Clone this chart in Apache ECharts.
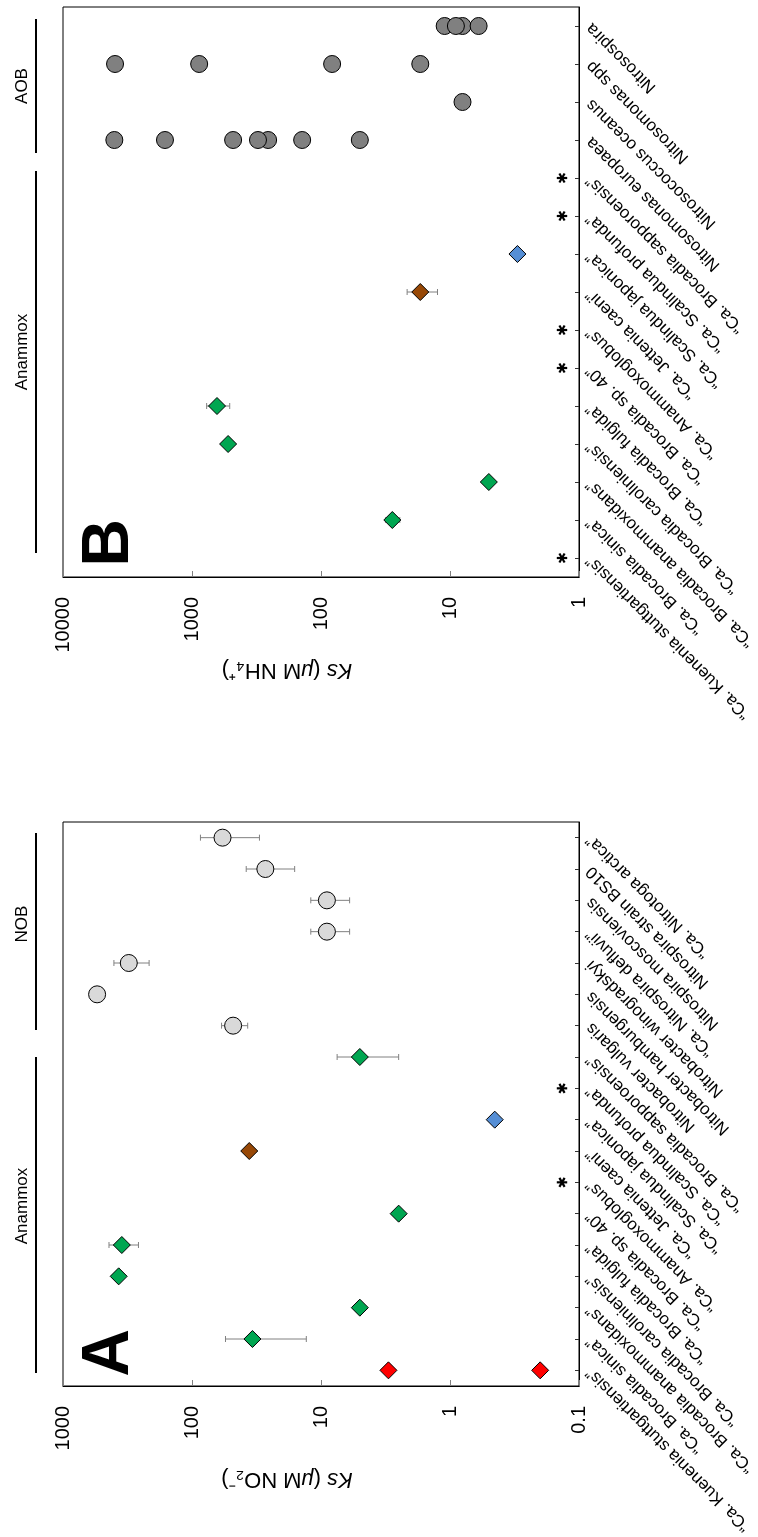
<!DOCTYPE html>
<html>
<head>
<meta charset="utf-8">
<script src="https://cdn.jsdelivr.net/npm/echarts@6/dist/echarts.min.js"></script>
<style>
  html, body { margin: 0; padding: 0; background: #fff; }
  #chart { width: 758px; height: 1537px; }
</style>
</head>
<body>
<div id="chart"></div>
<script>
// Half-saturation constants (Ks) of anammox bacteria, ammonia oxidisers (AOB)
// and nitrite oxidisers (NOB). Panel B: ammonium, panel A: nitrite.

// ---------- Panel B: Ks for NH4+ ----------
const nh4Categories = [
  '“Ca. Kuenenia stuttgartiensis”', '“Ca. Brocadia sinica”', '“Ca. Brocadia anammoxidans”',
  '“Ca. Brocadia caroliniensis”', '“Ca. Brocadia fulgida”', '“Ca. Brocadia sp. 40”',
  '“Ca. Anammoxoglobus”', '“Ca. Jettenia caeni”', '“Ca. Scalindua japonica”',
  '“Ca. Scalindua profunda”', '“Ca. Brocadia sapporoensis”', 'Nitrosomonas europaea',
  'Nitrosococcus oceanus', 'Nitrosomonas spp', 'Nitrosospira'
];
const nh4Ticks = [1, 10, 100, 1000, 10000];
// [organism, Ks, sd]
const nh4Brocadia = [
  ['“Ca. Brocadia sinica”', 28, 3.5],
  ['“Ca. Brocadia anammoxidans”', 5, 0],
  ['“Ca. Brocadia caroliniensis”', 525, 0],
  ['“Ca. Brocadia fulgida”', 640, 130]
];
const nh4Jettenia = [['“Ca. Jettenia caeni”', 17, 4.5]];
const nh4Scalindua = [['“Ca. Scalindua japonica”', 3, 0]];
const nh4AOB = [
  ['Nitrosomonas europaea', 4000, 0], ['Nitrosomonas europaea', 1620, 0],
  ['Nitrosomonas europaea', 480, 0], ['Nitrosomonas europaea', 257, 0],
  ['Nitrosomonas europaea', 308, 0], ['Nitrosomonas europaea', 140, 0],
  ['Nitrosomonas europaea', 50, 0],
  ['Nitrosococcus oceanus', 8, 0],
  ['Nitrosomonas spp', 3950, 0], ['Nitrosomonas spp', 880, 0],
  ['Nitrosomonas spp', 82, 0], ['Nitrosomonas spp', 17, 0],
  ['Nitrosospira', 11, 0], ['Nitrosospira', 8, 0], ['Nitrosospira', 9, 0], ['Nitrosospira', 6, 0]
];
const nh4NotDetermined = [
  '“Ca. Kuenenia stuttgartiensis”', '“Ca. Brocadia sp. 40”', '“Ca. Anammoxoglobus”',
  '“Ca. Scalindua profunda”', '“Ca. Brocadia sapporoensis”'
];

// ---------- Panel A: Ks for NO2- ----------
const no2Categories = [
  '“Ca. Kuenenia stuttgartiensis”', '“Ca. Brocadia sinica”', '“Ca. Brocadia anammoxidans”',
  '“Ca. Brocadia caroliniensis”', '“Ca. Brocadia fulgida”', '“Ca. Brocadia sp. 40”',
  '“Ca. Anammoxoglobus”', '“Ca. Jettenia caeni”', '“Ca. Scalindua japonica”',
  '“Ca. Scalindua profunda”', '“Ca. Brocadia sapporoensis”', 'Nitrobacter vulgaris',
  'Nitrobacter hamburgensis', 'Nitrobacter winogradskyi', '“Ca. Nitrospira defluvii”',
  'Nitrospira moscoviensis', 'Nitrospira strain BS10', '“Ca. Nitrotoga arctica”'
];
const no2Ticks = [0.1, 1, 10, 100, 1000];
const no2Kuenenia = [
  ['“Ca. Kuenenia stuttgartiensis”', 3, 0],
  ['“Ca. Kuenenia stuttgartiensis”', 0.2, 0]
];
const no2Brocadia = [
  ['“Ca. Brocadia sinica”', 34, 21],
  ['“Ca. Brocadia anammoxidans”', 5, 0],
  ['“Ca. Brocadia caroliniensis”', 370, 0],
  ['“Ca. Brocadia fulgida”', 350, 90],
  ['“Ca. Brocadia sp. 40”', 2.5, 0],
  ['“Ca. Brocadia sapporoensis”', 5, 2.5]
];
const no2Jettenia = [['“Ca. Jettenia caeni”', 36, 0]];
const no2Scalindua = [['“Ca. Scalindua japonica”', 0.45, 0]];
const no2NOB = [
  ['Nitrobacter vulgaris', 48, 11],
  ['Nitrobacter hamburgensis', 544, 0],
  ['Nitrobacter winogradskyi', 309, 94],
  ['“Ca. Nitrospira defluvii”', 9, 3],
  ['Nitrospira moscoviensis', 9, 3],
  ['Nitrospira strain BS10', 27, 11],
  ['“Ca. Nitrotoga arctica”', 58, 28]
];
const no2NotDetermined = ['“Ca. Anammoxoglobus”', '“Ca. Scalindua profunda”'];

// ---------- styling ----------
const FONT = 'Arial, "Liberation Sans", Helvetica, sans-serif';
const COLORS = {
  kuenenia: '#ff0000',
  brocadia: '#00a651',
  jettenia: '#974806',
  scalindua: '#558ed5',
  aob: '#808080',
  nob: '#d9d9d9'
};

function fmtTick(v) {
  return String(Number(Number(v).toPrecision(6)));
}

function valueAxis(gi, ticks, name) {
  return {
    gridIndex: gi,
    type: 'log',
    logBase: 10,
    min: ticks[0],
    max: ticks[ticks.length - 1],
    inverse: true,
    position: 'bottom',
    splitLine: { show: false },
    axisLine: { show: true, onZero: false, lineStyle: { color: '#000', width: 1 } },
    axisTick: { show: true, inside: true, length: 6, lineStyle: { color: '#808080', width: 1 } },
    axisLabel: {
      rotate: 90, margin: 20, fontSize: 20, color: '#000', fontFamily: FONT,
      formatter: fmtTick
    },
    name: name,
    nameLocation: 'middle',
    nameRotate: 180,
    nameGap: 82,
    nameTextStyle: {
      fontSize: 22, color: '#000', fontFamily: FONT,
      padding: [0, 0, 0, 68],
      rich: { it: { fontStyle: 'italic', fontSize: 22, fontFamily: FONT, color: '#000' } }
    }
  };
}

function categoryAxis(gi, cats) {
  return {
    gridIndex: gi,
    type: 'category',
    data: cats,
    position: 'right',
    boundaryGap: true,
    axisLine: { show: true, lineStyle: { color: '#000', width: 1 } },
    axisTick: { show: true, inside: true, length: 4, alignWithLabel: true, lineStyle: { color: '#333' } },
    axisLabel: { show: false },
    splitLine: { show: false }
  };
}

// organism names, slanted and ending at their tick on the category axis
function categoryLabels(gi, cats, axisMin) {
  return {
    type: 'custom', xAxisIndex: gi, yAxisIndex: gi, z: 5, clip: false, silent: true,
    encode: { x: 0, y: 1 },
    data: cats.map(c => [axisMin, c]),
    renderItem: function (params, api) {
      const y = api.coord([api.value(0), api.value(1)])[1];
      const cs = params.coordSys;
      return {
        type: 'text',
        x: cs.x + cs.width + 10,
        y: y,
        rotation: Math.PI * 3 / 4,
        style: {
          text: cats[params.dataIndex], fontSize: 17, fontFamily: FONT, fill: '#000',
          align: 'right', verticalAlign: 'middle'
        }
      };
    }
  };
}

function markers(gi, rows, symbol, color) {
  return {
    type: 'scatter', xAxisIndex: gi, yAxisIndex: gi,
    symbol: symbol, symbolSize: 17, z: 4,
    itemStyle: { color: color, borderColor: '#000', borderWidth: 1, opacity: 1 },
    data: rows.map(r => [r[1], r[0]])
  };
}

function errorBars(gi, rows) {
  return {
    type: 'custom', xAxisIndex: gi, yAxisIndex: gi, z: 2,
    encode: { x: 0, y: 1 },
    data: rows.filter(r => r[2] > 0).map(r => [r[1], r[0], r[2]]),
    renderItem: function (params, api) {
      const v = api.value(0), c = api.value(1), sd = api.value(2);
      const a = api.coord([v + sd, c]);
      const b = api.coord([v - sd, c]);
      const st = { stroke: '#808080', lineWidth: 1 };
      return {
        type: 'group',
        children: [
          { type: 'line', shape: { x1: a[0], y1: a[1], x2: b[0], y2: b[1] }, style: st },
          { type: 'line', shape: { x1: a[0], y1: a[1] - 3, x2: a[0], y2: a[1] + 3 }, style: st },
          { type: 'line', shape: { x1: b[0], y1: b[1] - 3, x2: b[0], y2: b[1] + 3 }, style: st }
        ]
      };
    }
  };
}

// asterisk drawn next to the category axis for organisms without a measured Ks
function notDetermined(gi, cats, axisMin) {
  return {
    type: 'custom', xAxisIndex: gi, yAxisIndex: gi, z: 3,
    encode: { x: 0, y: 1 },
    data: cats.map(c => [axisMin, c]),
    renderItem: function (params, api) {
      const y = api.coord([api.value(0), api.value(1)])[1];
      const cs = params.coordSys;
      const x = cs.x + cs.width - 17;
      const r = 5.2;
      const st = { stroke: '#000', lineWidth: 2.2 };
      const arms = [0, 60, 120].map(deg => {
        const t = deg * Math.PI / 180;
        return {
          type: 'line',
          shape: { x1: x - r * Math.cos(t), y1: y - r * Math.sin(t), x2: x + r * Math.cos(t), y2: y + r * Math.sin(t) },
          style: st
        };
      });
      return { type: 'group', children: arms };
    }
  };
}

function groupLabel(x, y, text) {
  return {
    type: 'text', x: x, y: y, rotation: Math.PI / 2,
    style: { text: text, fontSize: 17, fontFamily: FONT, fill: '#000', align: 'center', verticalAlign: 'middle' }
  };
}
function groupLine(x, y1, y2) {
  return { type: 'line', shape: { x1: x, y1: y1, x2: x, y2: y2 }, style: { stroke: '#000', lineWidth: 2 } };
}
function panelLetter(x, y, text) {
  return {
    type: 'text', x: x, y: y, rotation: Math.PI / 2,
    style: { text: text, fontSize: 66, fontWeight: 'bold', fontFamily: FONT, fill: '#000', align: 'center', verticalAlign: 'middle' }
  };
}

const chart = echarts.init(document.getElementById('chart'), null, { renderer: 'canvas' });

chart.setOption({
  animation: false,
  backgroundColor: '#fff',
  grid: [
    { left: 63, top: 7, width: 516, height: 570, show: true, borderColor: '#000', borderWidth: 1, backgroundColor: 'transparent' },
    { left: 63, top: 822, width: 516, height: 564, show: true, borderColor: '#000', borderWidth: 1, backgroundColor: 'transparent' }
  ],
  xAxis: [
    valueAxis(0, nh4Ticks, '{it|Ks} ({it|μ}M NH₄⁺)'),
    valueAxis(1, no2Ticks, '{it|Ks} ({it|μ}M NO₂⁻)')
  ],
  yAxis: [
    categoryAxis(0, nh4Categories),
    categoryAxis(1, no2Categories)
  ],
  series: [
    errorBars(0, nh4Brocadia),
    errorBars(0, nh4Jettenia),
    errorBars(0, nh4Scalindua),
    errorBars(0, nh4AOB),
    markers(0, nh4Brocadia, 'diamond', COLORS.brocadia),
    markers(0, nh4Jettenia, 'diamond', COLORS.jettenia),
    markers(0, nh4Scalindua, 'diamond', COLORS.scalindua),
    markers(0, nh4AOB, 'circle', COLORS.aob),
    notDetermined(0, nh4NotDetermined, nh4Ticks[0]),
    categoryLabels(0, nh4Categories, nh4Ticks[0]),

    errorBars(1, no2Kuenenia),
    errorBars(1, no2Brocadia),
    errorBars(1, no2Jettenia),
    errorBars(1, no2Scalindua),
    errorBars(1, no2NOB),
    markers(1, no2Kuenenia, 'diamond', COLORS.kuenenia),
    markers(1, no2Brocadia, 'diamond', COLORS.brocadia),
    markers(1, no2Jettenia, 'diamond', COLORS.jettenia),
    markers(1, no2Scalindua, 'diamond', COLORS.scalindua),
    markers(1, no2NOB, 'circle', COLORS.nob),
    notDetermined(1, no2NotDetermined, no2Ticks[0]),
    categoryLabels(1, no2Categories, no2Ticks[0])
  ],
  graphic: [
    // panel B groups
    groupLine(36, 19, 153), groupLabel(22, 86, 'AOB'),
    groupLine(36, 171, 553), groupLabel(22, 352, 'Anammox'),
    panelLetter(110, 543, 'B'),
    // panel A groups
    groupLine(36, 833, 1030), groupLabel(22, 924, 'NOB'),
    groupLine(36, 1057, 1373), groupLabel(22, 1206, 'Anammox'),
    panelLetter(110, 1353, 'A')
  ]
});
</script>
</body>
</html>
